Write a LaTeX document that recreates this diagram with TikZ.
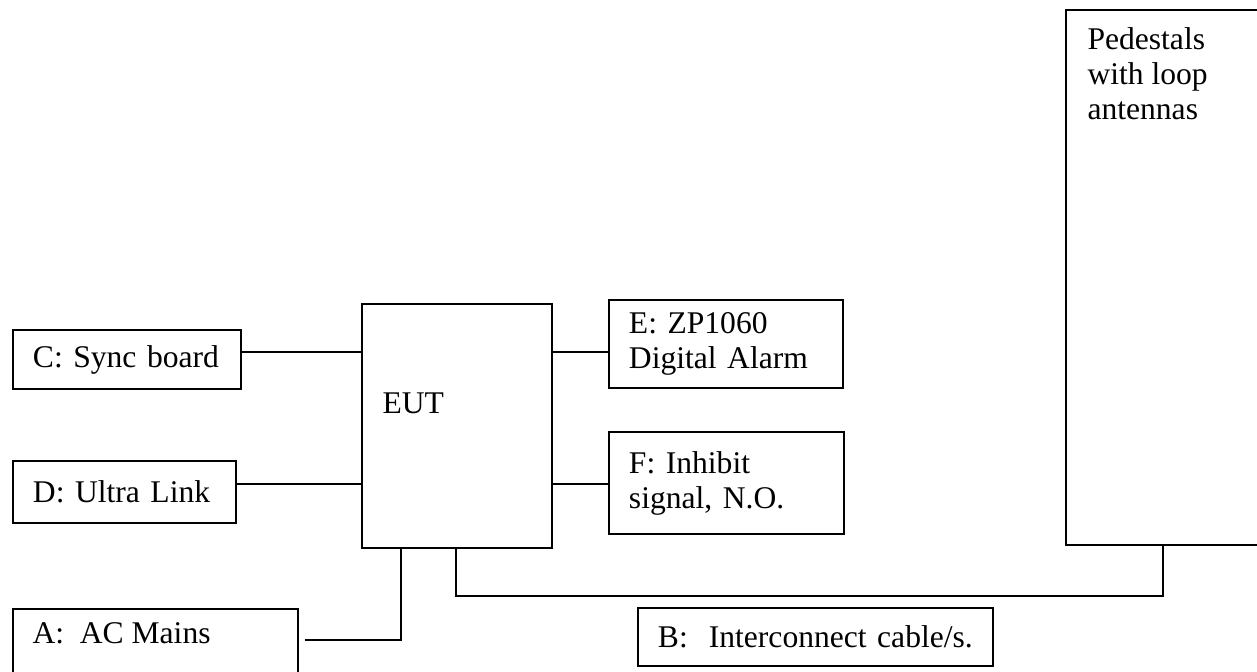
\documentclass[tikz,border=0pt]{standalone}
\usepackage{fontspec}
\setmainfont{Liberation Serif}
\usetikzlibrary{positioning}
\newcommand{\pxs}{0.38pt}

\begin{document}
\begin{tikzpicture}[
    x=0.38pt, y=-0.38pt,
    blk/.style={
      rectangle, draw, line width=0.75pt, anchor=north west, align=left,
      inner xsep=20*\pxs, inner ysep=0pt, font=\fontsize{12}{13.3}\selectfont
    },
    txt/.style={anchor=north west, align=left, inner sep=0pt, font=\fontsize{12}{13.3}\selectfont},
    lnk/.style={line width=0.75pt}
  ]
    \useasboundingbox (0,0) rectangle (1257,671);

    \node[blk, minimum width=200*\pxs, minimum height=535*\pxs] (ped) at (1065,9) {};
    \node[txt] (pedtxt) at (1087,27) {Pedestals\\with loop\\antennas};

    \node[blk, minimum width=190*\pxs, minimum height=244*\pxs] (eut) at (361,303) {};
    \node[txt] (euttxt) at (382,392) {EUT};

    \node[blk, minimum width=228*\pxs, text width=188*\pxs, minimum height=59*\pxs] (csync) at (12,329) {C: Sync board};
    \node[blk, minimum width=223*\pxs, text width=183*\pxs, minimum height=62*\pxs] (dlink) at (12,460) {D: Ultra Link};
    \node[blk, minimum width=234*\pxs, text width=194*\pxs, minimum height=88*\pxs] (ealarm) at (608,299) {E: ZP1060\\Digital Alarm};
    \node[blk, minimum width=235*\pxs, text width=195*\pxs, minimum height=102*\pxs] (finh) at (608,431) {F: Inhibit\\signal, N.O.};

    \node[blk, minimum width=285*\pxs, minimum height=80*\pxs] (amains) at (12,608) {};
    \node[txt] (amtxt) at (32,622) {A:\ \ AC Mains};
    \node[blk, minimum width=355*\pxs, text width=315*\pxs, minimum height=58*\pxs] (bcable) at (637,607) {B:\ \ Interconnect cable/s.};

    \coordinate (rowc) at (0,352);
    \coordinate (rowd) at (0,484);
    \coordinate (acor) at (401,640);
    \coordinate (cabl) at (456,596);
    \coordinate (cabr) at (1163,596);

    \draw[lnk] (csync.east |- rowc) -- (eut.west |- rowc);
    \draw[lnk] (dlink.east |- rowd) -- (eut.west |- rowd);
    \draw[lnk] (eut.east |- rowc) -- (ealarm.west |- rowc);
    \draw[lnk] (eut.east |- rowd) -- (finh.west |- rowd);
    \draw[lnk] ([xshift=6*\pxs]amains.east |- acor) -- (acor) -- (acor |- eut.south);
    \draw[lnk] (cabl |- eut.south) -- (cabl) -- (cabr) -- (cabr |- ped.south);
  \end{tikzpicture}
\end{document}
